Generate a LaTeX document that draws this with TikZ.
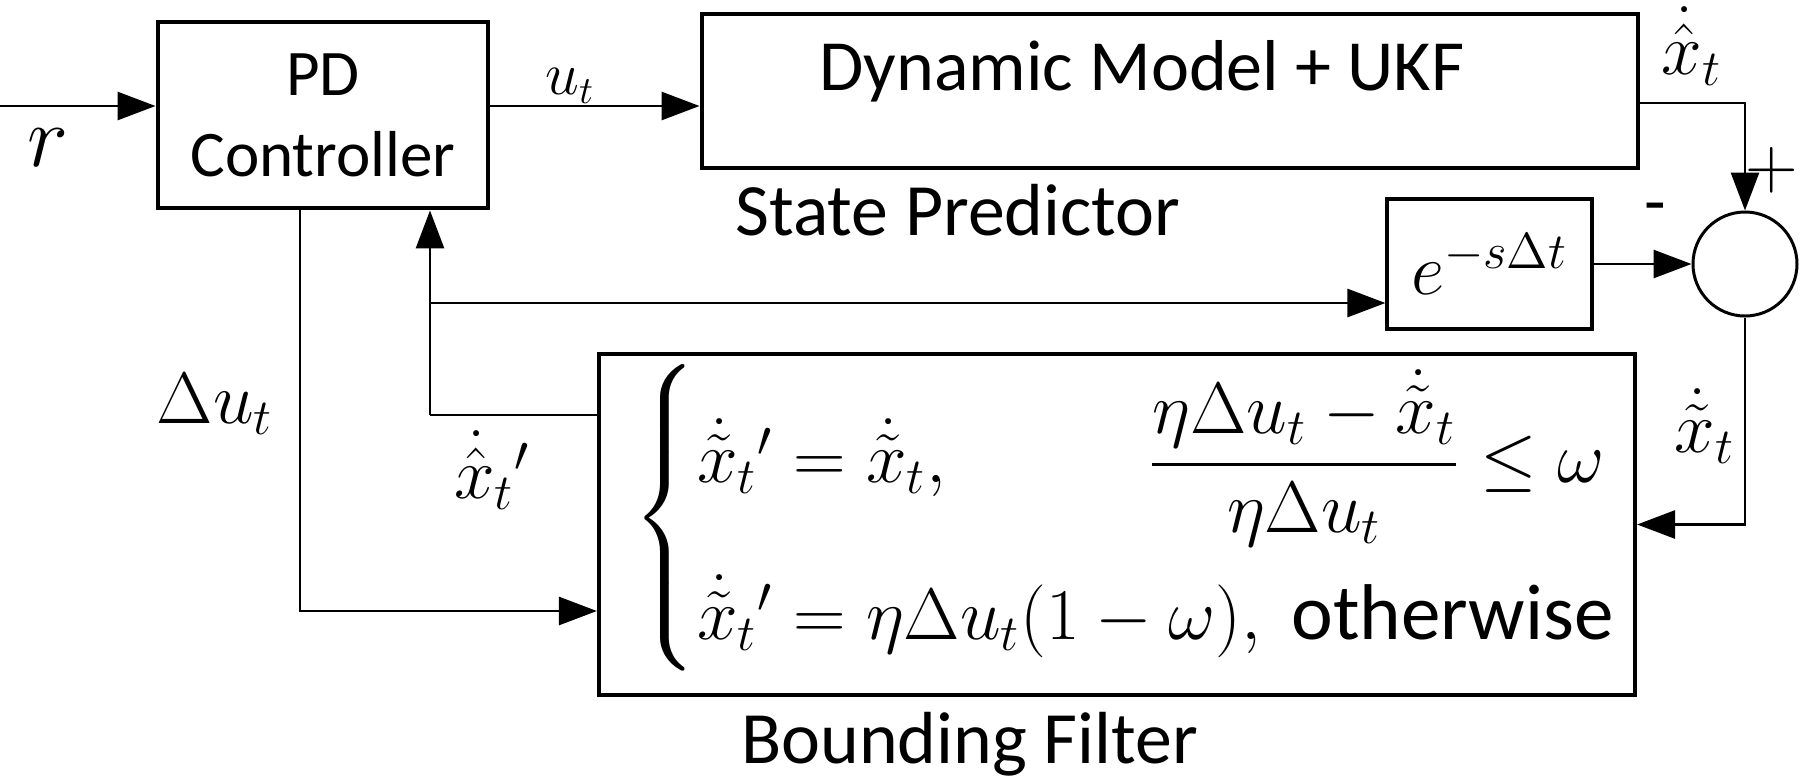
\documentclass[tikz,border=0pt]{standalone}
\usepackage{amsmath}
\usepackage[no-math]{fontspec}
\setmainfont{Carlito}
\usepackage{tikz}
\usetikzlibrary{arrows.meta}
\usetikzlibrary{calc}
\tikzset{
    >={Triangle[length=0.38cm,width=0.28cm]},
    block/.style={draw, line width=1.4pt, inner sep=0pt},
    link/.style={line width=0.8pt},
    every node/.style={font=\fontsize{20}{24}\selectfont}
}

\begin{document}
\begin{tikzpicture}
        \useasboundingbox (0,0) rectangle (18,7.78);

        \node [block, minimum width=3.30cm, minimum height=1.86cm, align=center,
               font=\fontsize{18.5}{23}\selectfont] (pd) at (3.23,6.63) {PD\\Controller};
        \node [block, minimum width=9.36cm, minimum height=1.54cm,
               label={[xshift=-0.28cm, yshift=0.2cm, font=\fontsize{20.5}{24}\selectfont]center:Dynamic Model + UKF}] (dyn) at (11.70,6.87) {};
        \node [block, line width=0.9pt, minimum width=2.05cm, minimum height=1.30cm,
               font=\fontsize{22}{24}\selectfont] (delay) at (14.895,5.14) {$e^{-s\Delta t}$};
        \node [draw, circle, line width=0.85pt, minimum size=1.04cm, inner sep=0pt] (sum) at (17.45,5.14) {};
        \node [block, line width=1.2pt, minimum width=10.36cm, minimum height=3.41cm] (filt) at (11.17,2.535) {};

        \node [anchor=west, font=\fontsize{22.5}{26}\selectfont] (filteq) at (6.20,2.60) {$\left\{\begin{array}{@{}l@{}}
            \dot{\tilde{x}}_t{}' = \dot{\tilde{x}}_t, \hspace{1.9cm} \dfrac{\eta\Delta u_t - \dot{\tilde{x}}_t}{\eta\Delta u_t} \le \omega \\[0.65cm]
            \dot{\tilde{x}}_t{}' = \eta\Delta u_t(1-\omega), \text{ otherwise}
            \end{array}\right.$};

        \node [anchor=west, font=\fontsize{21}{24}\selectfont] (sp) at (7.23,5.68) {State Predictor};
        \node [anchor=west, font=\fontsize{21}{24}\selectfont] (bf) at (7.29,0.34) {Bounding Filter};

        \node [font=\fontsize{30}{32}\selectfont] (rlab) at (0.48,6.30) {$r$};
        \node [font=\fontsize{16}{18}\selectfont] (ulab) at (5.70,6.92) {$u_t$};
        \node (xhat) at (16.92,7.32) {$\dot{\hat{x}}_t$};
        \node (plus) at (17.72,6.08) {$+$};
        \node (minus) at (16.55,5.64) {-};
        \node (xtil) at (17.05,3.52) {$\dot{\tilde{x}}_t$};
        \node (dulab) at (2.15,3.74) {$\Delta u_t$};
        \node (xhatp) at (4.92,3.08) {$\dot{\hat{x}}_t{}'$};

        \coordinate (rin) at (0,6.72);
        \coordinate (fb) at (4.30,3.63);
        \coordinate (br) at (4.30,4.75);
        \coordinate (du) at (3.00,1.67);

        \draw [link,->] (rin) -- (rin -| pd.west);
        \draw [link,->] (rin -| pd.east) -- (rin -| dyn.west);
        \draw [link,->] ([yshift=-0.12cm]dyn.east) -| (sum.north);
        \draw [link,->] (delay.east) -- (sum.west);
        \draw [link,->] (sum.south) |- (filt.east);
        \draw [link] (fb -| filt.west) -- (fb);
        \draw [link,->] (fb) -- (fb |- pd.south);
        \draw [link,->] (br) -- (br -| delay.west);
        \draw [link,->] (du |- pd.south) -- (du) -- (du -| filt.west);
    \end{tikzpicture}
\end{document}
